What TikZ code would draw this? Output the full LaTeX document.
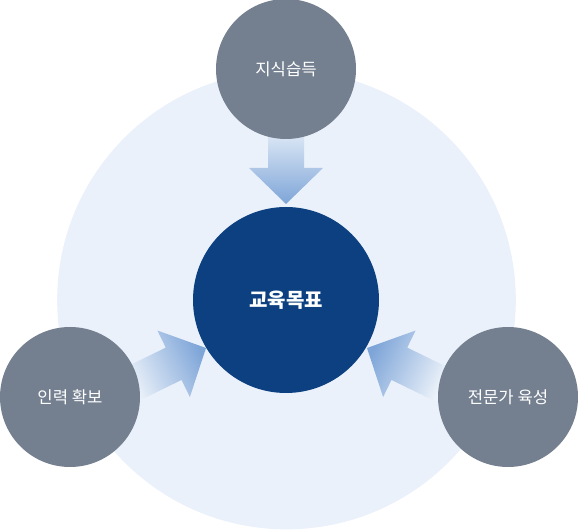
\documentclass[tikz,border=0pt]{standalone}
\usepackage{fontspec}
\newfontfamily\kofont{Noto Sans CJK KR}
\definecolor{ringbg}{HTML}{EAF1FA}
\definecolor{goalblue}{HTML}{0C4080}
\definecolor{topicgray}{HTML}{748090}
\definecolor{arrowtip}{HTML}{7EA5D8}
\definecolor{arrowtail}{HTML}{F0F5FB}
\tikzset{
  topic/.style={circle, fill=topicgray, minimum size=105pt, inner sep=0pt, text=white,
    font=\kofont\fontsize{12.5}{15}\selectfont},
  goal/.style={circle, fill=goalblue, minimum size=139.5pt, inner sep=0pt, text=white,
    font=\kofont\bfseries\fontsize{15}{18}\selectfont},
  ring/.style={circle, fill=ringbg, minimum size=344pt, inner sep=0pt},
}
% block arrow, tip at origin, pointing along +x
\newcommand{\blockarrow}{(0,0) -- (-36,-37) -- (-36,-18) -- (-85,-18) -- (-85,18) -- (-36,18) -- (-36,37) -- cycle}
\begin{document}
\begin{tikzpicture}[x=0.75pt,y=0.75pt,yscale=-1,xscale=1]
    \useasboundingbox (0,0) rectangle (578,530);
    % background ring
    \node[ring] (ring) at (286.5,300) {};
    % Arrows
    \begin{scope}[shift={(286,204)},rotate=90]
      \shade[top color=arrowtail,bottom color=arrowtip] \blockarrow;
    \end{scope}
    \begin{scope}[shift={(206,348)},rotate=-26]
      \shade[top color=arrowtip,bottom color=arrowtail,shading angle=-64] \blockarrow;
    \end{scope}
    \begin{scope}[shift={(367,348)},rotate=206]
      \shade[top color=arrowtip,bottom color=arrowtail,shading angle=64] \blockarrow;
    \end{scope}
    % Circles
    \node[goal] (goal) at (286,300) {교육목표};
    \node[topic] (know) at (286,69) {지식습득};
    \node[topic] (staff) at (70,397) {인력 확보};
    \node[topic] (expert) at (508,397) {전문가 육성};
\end{tikzpicture}
\end{document}
